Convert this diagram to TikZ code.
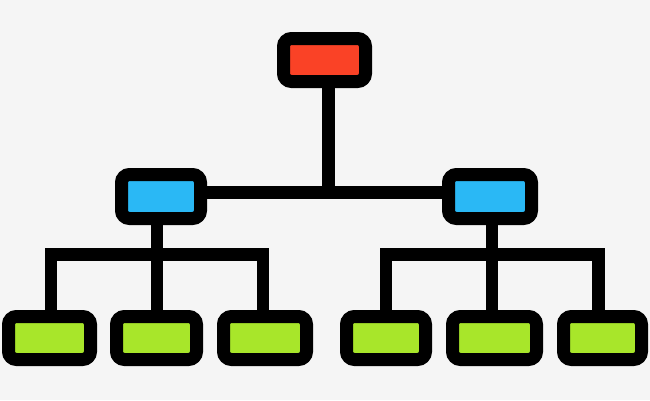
\documentclass[tikz,border=0pt]{standalone}
\definecolor{bgc}{RGB}{245,245,245}
\definecolor{redc}{RGB}{250,66,38}
\definecolor{bluec}{RGB}{42,184,245}
\definecolor{greenc}{RGB}{168,230,42}
\begin{document}
\begin{tikzpicture}[x=1pt,y=-1pt,
  box/.style={draw=black,line width=13pt,rounded corners=8pt,inner sep=0pt,minimum height=43pt},
  conn/.style={draw=black,line width=12.5pt,line join=miter,line cap=butt}]
\fill[bgc] (0,0) rectangle (650,400);
\useasboundingbox (0,0) rectangle (650,400);
% boxes
\node[box,fill=redc,minimum width=82pt] (top) at (324.5,60) {};
\node[box,fill=bluec,minimum width=79pt,minimum height=44pt] (bl) at (161,196.5) {};
\node[box,fill=bluec,minimum width=83pt,minimum height=44pt] (br) at (490,196.5) {};
\node[box,fill=greenc,minimum width=82pt] (l1) at (49.5,338) {};
\node[box,fill=greenc,minimum width=80pt] (l2) at (156.5,338) {};
\node[box,fill=greenc,minimum width=83pt] (l3) at (265,338) {};
\node[box,fill=greenc,minimum width=79pt] (r1) at (386,338) {};
\node[box,fill=greenc,minimum width=84pt] (r2) at (494.5,338) {};
\node[box,fill=greenc,minimum width=78pt] (r3) at (602.5,338) {};
% junctions
\coordinate (j0) at (328.5,192.5);
\coordinate (jl) at (157,254.5);
\coordinate (jr) at (492,254.5);
\coordinate (a1) at (51,254.5);
\coordinate (a3) at (263,254.5);
\coordinate (b1) at (386,254.5);
\coordinate (b3) at (598.5,254.5);
% connectors
\draw[conn] (top.south -| j0) -- (j0);
\draw[conn] (bl.east |- j0) -- (br.west |- j0);
\draw[conn] (bl.south -| jl) -- (jl);
\draw[conn] (br.south -| jr) -- (jr);
\draw[conn] (l1.north -| a1) -- (a1) -- (a3) -- (l3.north -| a3);
\draw[conn] (jl) -- (l2.north -| jl);
\draw[conn] (r1.north -| b1) -- (b1) -- (b3) -- (r3.north -| b3);
\draw[conn] (jr) -- (r2.north -| jr);
\end{tikzpicture}
\end{document}
